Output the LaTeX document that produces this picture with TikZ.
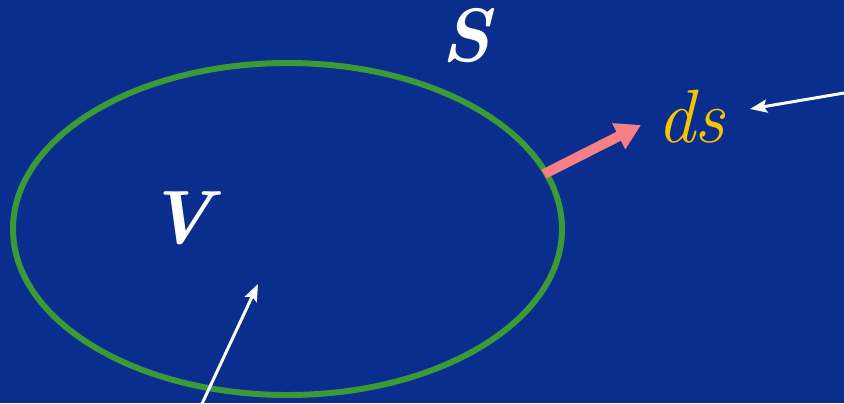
\documentclass[tikz,border=0pt]{standalone}
\usepackage{fontspec}
\usetikzlibrary{arrows.meta, positioning}
\definecolor{bgblue}{RGB}{10,46,142}
\definecolor{surfgreen}{RGB}{58,154,53}
\definecolor{normalpink}{RGB}{248,127,132}
\definecolor{dsyellow}{RGB}{246,196,0}
\tikzset{
  symbol/.style={text=white, inner sep=0pt, font=\fontsize{43}{47}\selectfont\bfseries\itshape},
  pointer/.style={draw=white, line width=1.7pt, -{Stealth[length=0.34cm, width=0.26cm, inset=0.06cm]}}
}

\begin{document}
\begin{tikzpicture}[x=0.02cm, y=-0.02cm, line width=1pt]
        \fill[bgblue] (0,0) rectangle (844,403);
        \useasboundingbox (0,0) rectangle (844,403);
        % surface S enclosing volume V
        \draw[surfgreen, line width=3.4pt] (287.5,229) ellipse [x radius=274.5, y radius=166];
        \node[symbol] (S) at (466,36) {S};
        \node[symbol] (V) at (180,218) {V};
        \node[text=dsyellow, inner sep=0pt, font=\fontsize{43}{47}\selectfont\itshape] (ds) at (691,117) {ds};
        % normal element
        \coordinate (nBase) at (544,174);
        \coordinate (nTip) at (641,125);
        \draw[normalpink, line width=5.7pt, -{Triangle[length=0.5cm, width=0.55cm]}] (nBase) -- (nTip);
        % pointers
        \coordinate (pA) at (850,92);
        \coordinate (pAtip) at (750,109);
        \draw[pointer] (pA) -- (pAtip);
        \coordinate (pB) at (200,408);
        \coordinate (pBtip) at (258,284);
        \draw[pointer] (pB) -- (pBtip);
    \end{tikzpicture}
\end{document}
